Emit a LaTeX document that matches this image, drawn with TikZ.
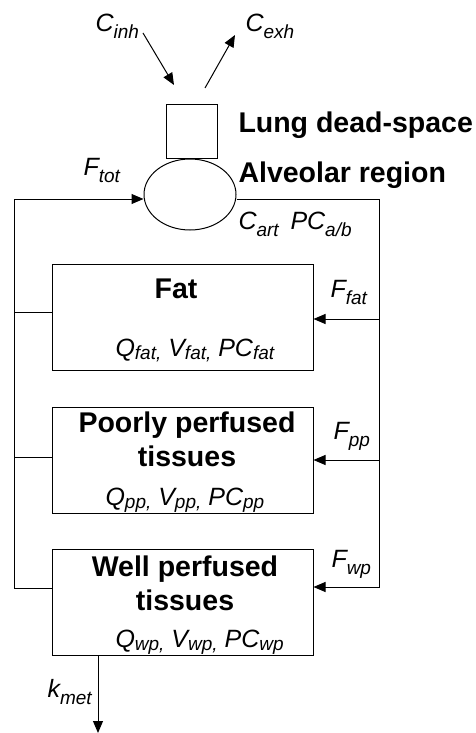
\documentclass[tikz,border=0pt]{standalone}
\usepackage{fontspec}
\setmainfont{Liberation Sans}
\usetikzlibrary{arrows.meta,shapes.geometric}
\newcommand\sub[2][7pt]{\raisebox{-#1}{\fontsize{19}{19}\selectfont #2}}
\tikzset{
  organ/.style={draw, minimum width=261pt, minimum height=106pt, inner sep=0pt},
  lbl/.style={font=\fontsize{25}{30}\selectfont\itshape, inner sep=0pt, anchor=base west},
  ttl/.style={font=\fontsize{28.5}{34}\selectfont\bfseries, inner sep=0pt, align=center, anchor=base},
}
\begin{document}
\begin{tikzpicture}[x=1pt, y=-1pt, line width=1pt, >={Triangle[length=12pt,width=10pt]}]
    \useasboundingbox (0,0) rectangle (475,733);
    % Lung
    \node[draw, minimum width=51pt, minimum height=53pt, inner sep=0pt] (dead) at (191.5,131.5) {};
    \node[draw, ellipse, minimum width=92pt, minimum height=71pt, inner sep=0pt] (alv) at (190,194.5) {};
    \node[ttl, anchor=base west] (deadlbl) at (238,132) {Lung dead-space};
    \node[ttl, anchor=base west] (alvlbl) at (238,182) {Alveolar region};

    % Breathing in and out
    \node[lbl] (cinh) at (95,31.5) {C\sub{inh}};
    \node[lbl] (cexh) at (245,31.5) {C\sub{exh}};
    \coordinate (inh0) at (143,33);
    \coordinate (inh1) at (174,85);
    \coordinate (exh0) at (205,88);
    \coordinate (exh1) at (235,35);
    \draw[->] (inh0) -- (inh1);
    \draw[->] (exh0) -- (exh1);

    % Tissues
    \node[organ] (fat) at (182.5,317.5) {};
    \node[organ] (pp) at (182.5,460) {};
    \node[organ] (wp) at (182.5,602) {};
    \node[ttl] (fatlbl) at (176,298) {Fat};
    \node[ttl] (pplbl) at (187,466) {Poorly perfused\\tissues};
    \node[ttl] (wplbl) at (185,610) {Well perfused\\tissues};
    \node[lbl] (fatpar) at (115,356) {Q\sub[3pt]{fat,} V\sub[3pt]{fat,} PC\sub[3pt]{fat}};
    \node[lbl] (pppar) at (105,505) {Q\sub[3pt]{pp,} V\sub[3pt]{pp,} PC\sub[3pt]{pp}};
    \node[lbl] (wppar) at (115,647) {Q\sub[3pt]{wp,} V\sub[3pt]{wp,} PC\sub[3pt]{wp}};

    % Blood flows
    \coordinate (L) at (14,199);
    \coordinate (R) at (379,199);
    \coordinate (fatout) at ([yshift=5.5pt]fat.west);
    \coordinate (ppout) at ([yshift=3pt]pp.west);
    \coordinate (wpout) at ([yshift=14pt]wp.west);
    \coordinate (fatin) at ([yshift=-1.5pt]fat.east);
    \coordinate (ppin) at (pp.east);
    \coordinate (wpin) at ([yshift=15pt]wp.east);
    \draw[->] (wpout) -| (L) -- (L -| alv.west);
    \draw (fatout) -- (fatout -| L);
    \draw (ppout) -- (ppout -| L);
    \draw[->] (alv.east |- R) -- (R) |- (wpin);
    \draw[->] (fatin -| R) -- (fatin);
    \draw[->] (ppin -| R) -- (ppin);
    \node[lbl] (ftot) at (83,175) {F\sub{tot}};
    \node[lbl] (cart) at (238,229) {C\sub{art}};
    \node[lbl] (pcab) at (290,229) {PC\sub{a/b}};
    \node[lbl] (ffat) at (330,297) {F\sub{fat}};
    \node[lbl] (fpp) at (333,439) {F\sub{pp}};
    \node[lbl] (fwp) at (331,567) {F\sub{wp}};

    % Metabolism
    \coordinate (met) at (98,733);
    \draw[->] (met |- wp.south) -- (met);
    \node[lbl] (kmet) at (47,697) {k\sub{met}};
\end{tikzpicture}
\end{document}
